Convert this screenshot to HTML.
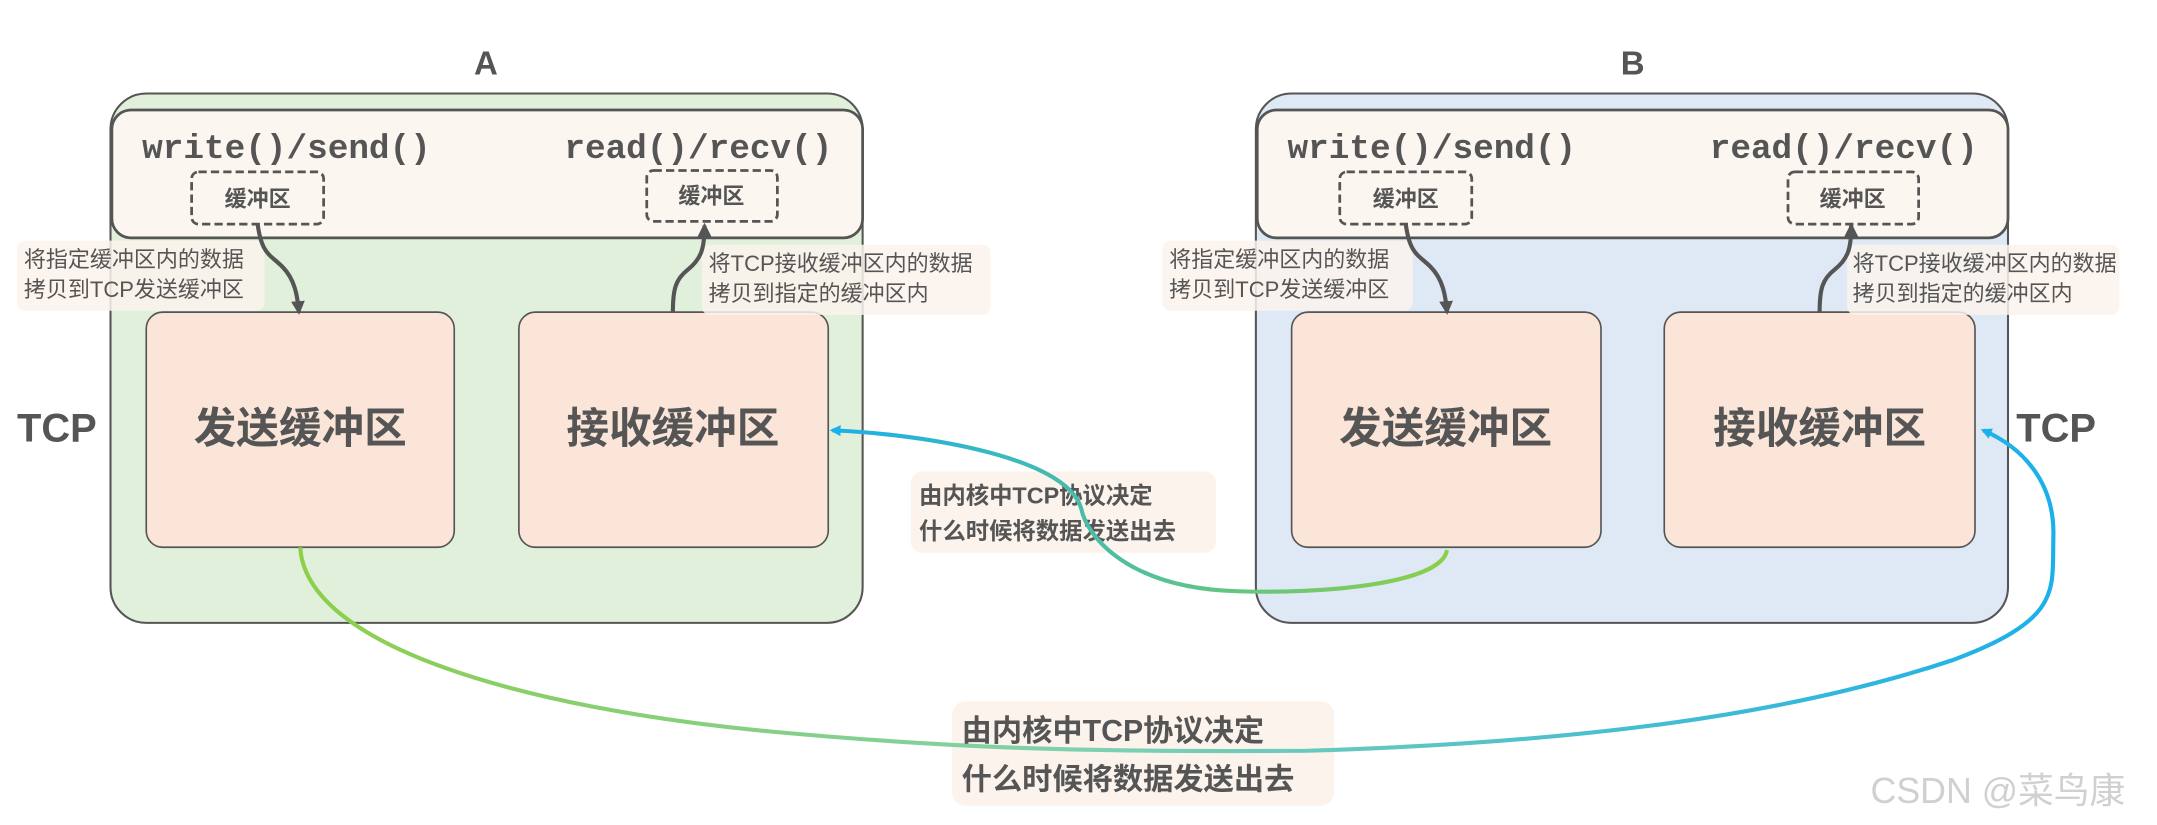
<!DOCTYPE html>
<html><head><meta charset="utf-8"><style>
html,body{margin:0;padding:0;background:#fff;}
svg{display:block;}
text{font-family:"Liberation Sans","Noto Sans CJK SC",sans-serif;}
.mono{font-family:"Liberation Mono","DejaVu Sans Mono",monospace;font-weight:bold;}
</style></head><body>
<svg width="2157" height="825" viewBox="0 0 1568 600" xmlns="http://www.w3.org/2000/svg">
<defs>
<linearGradient id="g1" gradientUnits="userSpaceOnUse" x1="1052" y1="0" x2="603" y2="0">
<stop offset="0" stop-color="#8dcf4a"/><stop offset="1" stop-color="#1ab0ea"/></linearGradient>
<linearGradient id="g2" gradientUnits="userSpaceOnUse" x1="218" y1="0" x2="1495" y2="0">
<stop offset="0" stop-color="#8dcf4a"/><stop offset="0.45" stop-color="#7fd0b0"/><stop offset="1" stop-color="#1ab0ea"/></linearGradient>
<marker id="ab" markerWidth="8" markerHeight="8" refX="6" refY="4" orient="auto" markerUnits="userSpaceOnUse"><path d="M0,0 L8,4 L0,8 Z" fill="#1ab0ea"/></marker>
<marker id="ag" markerWidth="10" markerHeight="10" refX="8" refY="5" orient="auto" markerUnits="userSpaceOnUse"><path d="M0,0 L10,5 L0,10 Z" fill="#555"/></marker>
</defs>

<!-- A -->
<text x="353" y="54" font-size="24" font-weight="bold" fill="#555" text-anchor="middle">A</text>
<rect x="80" y="68" width="547" height="385" rx="26" fill="#e1f0db" stroke="#555" stroke-width="1.5"/>
<rect x="81" y="80" width="546" height="93" rx="14" fill="#fcf6f1" stroke="#555" stroke-width="2"/>
<text class="mono" x="103" y="115" font-size="25" fill="#555">write()/send()</text>
<text class="mono" x="605" y="115" font-size="25" fill="#555" text-anchor="end">read()/recv()</text>
<rect x="139" y="125" width="96" height="38" rx="5" fill="none" stroke="#555" stroke-width="2" stroke-dasharray="6,3"/>
<text x="187" y="150" font-size="16" font-weight="bold" fill="#555" text-anchor="middle">缓冲区</text>
<rect x="470" y="124" width="95" height="37" rx="5" fill="none" stroke="#555" stroke-width="2" stroke-dasharray="6,3"/>
<text x="517" y="148" font-size="16" font-weight="bold" fill="#555" text-anchor="middle">缓冲区</text>
<rect x="106" y="227" width="224" height="171" rx="12" fill="#fae5d8" stroke="#555" stroke-width="1.2"/>
<text x="218" y="322" font-size="31" font-weight="bold" fill="#555" text-anchor="middle">发送缓冲区</text>
<rect x="377" y="227" width="225" height="171" rx="12" fill="#fae5d8" stroke="#555" stroke-width="1.2"/>
<text x="489" y="322" font-size="31" font-weight="bold" fill="#555" text-anchor="middle">接收缓冲区</text>
<text x="12" y="321" font-size="29" font-weight="bold" fill="#555">TCP</text>
<rect x="12" y="175" width="180" height="51" rx="6" fill="#fcf3ec" opacity="0.85"/>
<text x="17" y="194" font-size="16" fill="#555">将指定缓冲区内的数据</text>
<text x="17" y="216" font-size="16" fill="#555">拷贝到TCP发送缓冲区</text>
<path d="M187,163 C190,185 196,185 205,194 C214,203 216,215 217,227" fill="none" stroke="#555" stroke-width="3" marker-end="url(#ag)"/>
<rect x="510" y="178" width="210" height="51" rx="6" fill="#fcf3ec" opacity="0.85"/>
<text x="515" y="197" font-size="16" fill="#555">将TCP接收缓冲区内的数据</text>
<text x="515" y="219" font-size="16" fill="#555">拷贝到指定的缓冲区内</text>
<path d="M489,227 C489,210 491,203 500,196 C510,188 512,180 512,164" fill="none" stroke="#555" stroke-width="3" marker-end="url(#ag)"/>

<!-- B -->
<text x="1187" y="54" font-size="24" font-weight="bold" fill="#555" text-anchor="middle">B</text>
<rect x="913" y="68" width="547" height="385" rx="26" fill="#dee9f5" stroke="#555" stroke-width="1.5"/>
<rect x="914" y="80" width="546" height="93" rx="14" fill="#fcf6f1" stroke="#555" stroke-width="2"/>
<text class="mono" x="936" y="115" font-size="25" fill="#555">write()/send()</text>
<text class="mono" x="1438" y="115" font-size="25" fill="#555" text-anchor="end">read()/recv()</text>
<rect x="974" y="125" width="96" height="38" rx="5" fill="none" stroke="#555" stroke-width="2" stroke-dasharray="6,3"/>
<text x="1022" y="150" font-size="16" font-weight="bold" fill="#555" text-anchor="middle">缓冲区</text>
<rect x="1300" y="125" width="95" height="38" rx="5" fill="none" stroke="#555" stroke-width="2" stroke-dasharray="6,3"/>
<text x="1347" y="150" font-size="16" font-weight="bold" fill="#555" text-anchor="middle">缓冲区</text>
<rect x="939" y="227" width="225" height="171" rx="12" fill="#fae5d8" stroke="#555" stroke-width="1.2"/>
<text x="1051" y="322" font-size="31" font-weight="bold" fill="#555" text-anchor="middle">发送缓冲区</text>
<rect x="1210" y="227" width="226" height="171" rx="12" fill="#fae5d8" stroke="#555" stroke-width="1.2"/>
<text x="1323" y="322" font-size="31" font-weight="bold" fill="#555" text-anchor="middle">接收缓冲区</text>
<text x="1466" y="321" font-size="29" font-weight="bold" fill="#555">TCP</text>
<rect x="845" y="175" width="182" height="51" rx="6" fill="#fcf3ec" opacity="0.85"/>
<text x="850" y="194" font-size="16" fill="#555">将指定缓冲区内的数据</text>
<text x="850" y="216" font-size="16" fill="#555">拷贝到TCP发送缓冲区</text>
<path d="M1022,163 C1025,185 1031,185 1040,194 C1049,203 1051,215 1052,227" fill="none" stroke="#555" stroke-width="3" marker-end="url(#ag)"/>
<rect x="1343" y="178" width="198" height="51" rx="6" fill="#fcf3ec" opacity="0.85"/>
<text x="1347" y="197" font-size="16" fill="#555">将TCP接收缓冲区内的数据</text>
<text x="1347" y="219" font-size="16" fill="#555">拷贝到指定的缓冲区内</text>
<path d="M1323,227 C1323,210 1325,203 1334,196 C1344,188 1346,180 1346,164" fill="none" stroke="#555" stroke-width="3" marker-end="url(#ag)"/>

<!-- curves -->
<rect x="662" y="343" width="222" height="59" rx="8" fill="#fcf3ec"/>
<text x="668" y="366" font-size="17" font-weight="bold" fill="#555">由内核中TCP协议决定</text>
<text x="668" y="392" font-size="17" font-weight="bold" fill="#555">什么时候将数据发送出去</text>
<path d="M1052,400 C1048,425 960,432 900,430 C820,428 790,390 786,370 C775,330 660,315 605,313" fill="none" stroke="url(#g1)" stroke-width="3" marker-end="url(#ab)"/>
<rect x="692" y="510" width="278" height="76" rx="10" fill="#fcf3ec"/>
<path d="M218,398 C222,470 380,515 560,532 C700,545 800,547 950,546 C1150,540 1300,520 1420,480 C1500,450 1492,430 1493,390 C1494,350 1470,325 1442,313" fill="none" stroke="url(#g2)" stroke-width="3" marker-end="url(#ab)"/>
<text x="699" y="539" font-size="22" font-weight="bold" fill="#555">由内核中TCP协议决定</text>
<text x="699" y="574" font-size="22" font-weight="bold" fill="#555">什么时候将数据发送出去</text>

<text x="1360" y="584" font-size="26" fill="#d0d0d0">CSDN @菜鸟康</text>
</svg>
</body></html>
